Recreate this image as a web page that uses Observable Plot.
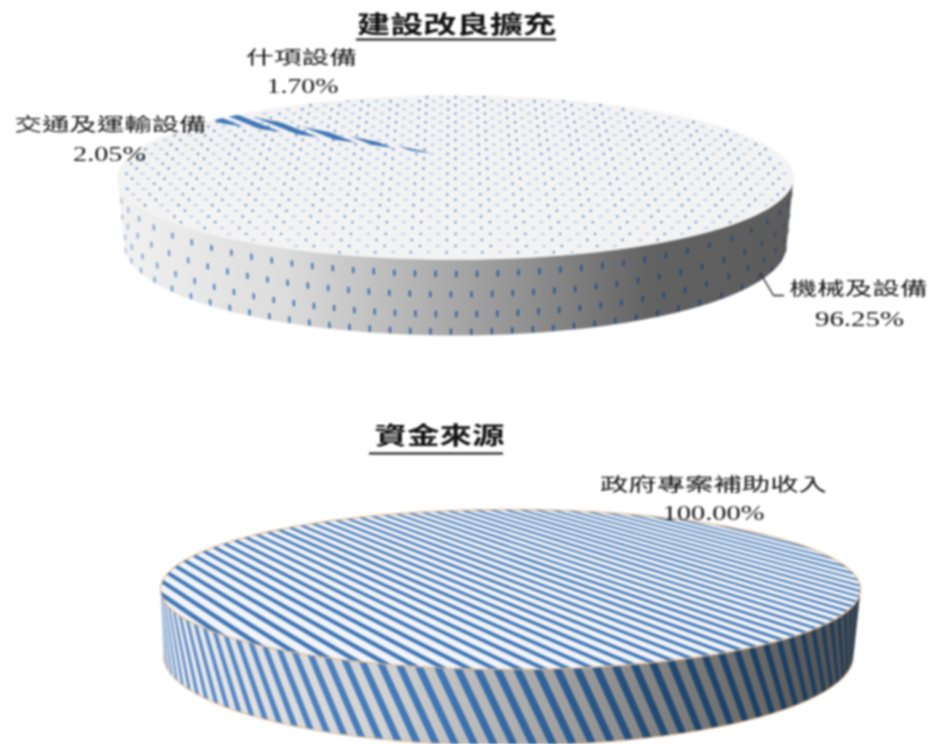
<!DOCTYPE html>
<html>
<head>
<meta charset="utf-8">
<style>html,body{margin:0;padding:0;background:#fff}svg{display:block}</style>
<script src="https://cdn.jsdelivr.net/npm/d3@7"></script>
<script src="https://cdn.jsdelivr.net/npm/@observablehq/plot@0.6"></script>
</head>
<body>
<div id="chart"></div>
<script>
const capexTitle = "建設改良擴充";
const capexLabels = ["機械及設備", "交通及運輸設備", "什項設備"];
const capexShares = [96.25, 2.05, 1.70];
const fundTitle = "資金來源";
const fundLabels = ["政府專案補助收入"];
const fundShares = [100];

const fmt = v => d3.format(".2f")(v) + "%";
const CJK = '"Noto Sans CJK TC","Noto Sans CJK SC",sans-serif';
const LAT = '"Liberation Serif",serif';
const rad = Math.PI / 180;

// Solid geometry of the two drawn discs
const capex = {top:{cx:455,cy:177,rx:338,ry:82}, bot:{cx:455,cy:245,rx:331,ry:90}, apex:[445,155], start:-33.5*rad};
const fund  = {top:{cx:510,cy:589,rx:350,ry:80}, bot:{cx:508,cy:655,rx:345,ry:90}, apex:[510,589], start:0};

const onEll = (e, phi) => [e.cx + e.rx*Math.cos(phi), e.cy + e.ry*Math.sin(phi)];
const steps = (a, b, n) => d3.range(n + 1).map(i => a + (b - a)*i/n);

// Slices from the pie layout: clockwise from north
function slices(d, shares, labels) {
  return d3.pie().sort(null).startAngle(d.start).endAngle(d.start + 2*Math.PI)(shares).map((s, i) => {
    const arc = steps(s.startAngle, s.endAngle, 120).map(a => [d.top.cx + d.top.rx*Math.sin(a), d.top.cy - d.top.ry*Math.cos(a)]);
    const pts = s.endAngle - s.startAngle > 6.28 ? arc : [d.apex, ...arc];
    return pts.map(p => ({x:p[0], y:p[1], k:labels[i]}));
  });
}
const capexSlices = slices(capex, capexShares, capexLabels);
const fundSlices = slices(fund, fundShares, fundLabels);

function wall(d) {
  const t = steps(0, Math.PI, 120);
  return [...t.map(p => onEll(d.top, p)), ...t.slice().reverse().map(p => onEll(d.bot, p))].map(p => ({x:p[0], y:p[1]}));
}
const lineEll = e => steps(0, 2*Math.PI, 180).map(p => { const q = onEll(e, p); return {x:q[0], y:q[1]}; });
const lowerArc = e => steps(0, Math.PI, 120).map(p => { const q = onEll(e, p); return {x:q[0], y:q[1]}; });

// Texture: dots on the first disc's top face
const dotsDot = [], dotsDash = [];
{
  const yh = -527; let y = 258, r = 0;
  while (y > 96) {
    const scale = (y - yh) / 785;
    const px = 18 * scale;
    for (let i = -30; i <= 30; i++) {
      const x = capex.top.cx + (i + (r % 2) / 2) * px;
      const u = (x - capex.top.cx)/capex.top.rx, v = (y - capex.top.cy)/capex.top.ry;
      if (u*u + v*v > 0.97) continue;
      if ((i + r + 40) % 2 === 0) dotsDot.push({x, y});
      else dotsDash.push({x1:x - 2, x2:x + 2, y});
    }
    y -= 6.3 * scale * scale;
    r++;
  }
}
// Texture: dots on the first disc's wall; they spread out toward the silhouette
const wallDots = [];
[0.19, 0.46, 0.72, 0.95].forEach((f, r) => {
  let p = 0.05 + (r % 2) * 0.03;
  while (p < Math.PI - 0.03) {
    const a = onEll(capex.top, p), b = onEll(capex.bot, p);
    const at = g => [a[0] + (b[0] - a[0])*g, a[1] + (b[1] - a[1])*g];
    const s = at(f - 0.028), e = at(f + 0.028);
    const edge = Math.sin(p);
    wallDots.push({x1:s[0], y1:s[1], x2:e[0], y2:e[1], o:Math.min(0.9, 0.25 + 0.9*edge)});
    p += 0.0615 / Math.max(0.55, edge);
  }
});
// Texture: diagonal strokes inside the transport slice
const sliceHatch = d3.range(-3, 14).map(i => ({x1:203 + i*24 - 60, y1:108, x2:203 + i*24 + 60, y2:108 + 48}));

// Texture: stripes of the second disc's top face, converging to a vanishing point
const VP = [-324, 263], refY = 589, far = 820;
const topStripes = [];
for (let k = 0; k < 52; k++) {
  const x0 = 90 + k*20, x1 = x0 + 7.5;
  const ext = xx => VP[0] + (xx - VP[0])*(far - VP[1])/(refY - VP[1]);
  [VP, [ext(x0), far], [ext(x1), far]].forEach(p => topStripes.push({x:p[0], y:p[1], k}));
}
// Texture: helical stripes of the second disc's wall
const wallStripes = [];
{
  const per = 0.057, w = 0.024, tw = 0.11;
  const cl = p => Math.max(0, Math.min(Math.PI, p));
  for (let k = 0; k < 62; k++) {
    const p = k*per;
    const a = onEll(fund.top, cl(p)), b = onEll(fund.top, cl(p + w));
    const c = onEll(fund.bot, cl(p + w - tw)), e = onEll(fund.bot, cl(p - tw));
    [a, b, c, e].forEach(q => wallStripes.push({x:q[0], y:q[1], k}));
  }
}

const texts = [
  {t:capexTitle, x:456, y:25, w:199, size:24, bold:true, font:CJK},
  {t:fundTitle, x:439, y:436, w:130, size:24, bold:true, font:CJK},
  {t:capexLabels[2], x:301, y:58, w:111, size:18, font:CJK},
  {t:fmt(capexShares[2]), x:302, y:85, w:72, size:22, font:LAT},
  {t:capexLabels[1], x:110, y:125, w:192, size:18, font:CJK},
  {t:fmt(capexShares[1]), x:109, y:153, w:73, size:22, font:LAT},
  {t:capexLabels[0], x:858, y:289, w:138, size:18, font:CJK},
  {t:fmt(capexShares[0]), x:859, y:318, w:89, size:22, font:LAT},
  {t:fundLabels[0], x:713, y:485, w:227, size:18, font:CJK},
  {t:fmt(fundShares[0]), x:713, y:512, w:102, size:22, font:LAT}
];
const underlines = [{x1:356, x2:556, y:39}, {x1:369, x2:503, y:453}];
const leader = [{x:760, y:273}, {x:773, y:295}, {x:783, y:295}];

const clipTo = id => (i, s, v, d, c, next) => {
  const g = next(i, s, v, d, c);
  g.setAttribute("clip-path", `url(#${id})`);
  return g;
};

function defsMark(index, scales) {
  const X = scales.x, Y = scales.y;
  const defs = d3.create("svg:defs");
  const grad = (id, a, b, stops) => {
    const g = defs.append("linearGradient").attr("id", id).attr("gradientUnits", "userSpaceOnUse")
      .attr("x1", X(a)).attr("x2", X(b)).attr("y1", 0).attr("y2", 0);
    stops.forEach(([o, c]) => g.append("stop").attr("offset", o).attr("stop-color", c));
  };
  grad("wallA", 117, 792, [[0,"#f2f2f2"],[0.25,"#dcdcdc"],[0.42,"#b8b8b8"],[0.6,"#929292"],[0.79,"#626262"],[1,"#5c5c5c"]]);
  grad("wallADot", 117, 792, [[0,"#4a7fbf"],[0.45,"#2f62a2"],[0.7,"#234f80"],[1,"#1f3f66"]]);
  grad("wallB", 161, 860, [[0,"#ececec"],[0.33,"#d0d0d0"],[0.5,"#b0b0b0"],[0.69,"#868686"],[0.85,"#6a6a6a"],[1,"#4a4a4a"]]);
  grad("wallBStripe", 161, 860, [[0,"#5a8ccb"],[0.4,"#3f75b5"],[0.55,"#2f6098"],[0.7,"#214a75"],[0.85,"#1c3f64"],[1,"#1a3a5c"]]);
  const ell = (id, e) => defs.append("clipPath").attr("id", id).append("ellipse")
    .attr("cx", X(e.cx)).attr("cy", Y(e.cy)).attr("rx", e.rx).attr("ry", e.ry);
  ell("clipFund", fund.top);
  const line = d3.line().x(d => X(d.x)).y(d => Y(d.y));
  defs.append("clipPath").attr("id", "clipSlice").append("path").attr("d", line(capexSlices[1]) + "Z");
  return defs.node();
}

const plot = Plot.plot({
  width: 931, height: 744,
  marginTop: 0, marginRight: 0, marginBottom: 0, marginLeft: 0,
  x: {domain: [0, 931], range: [0, 931], axis: null},
  y: {domain: [0, 744], range: [0, 744], axis: null},
  style: {background: "#fff"},
  marks: [
    defsMark,
    // first disc
    Plot.line(wall(capex), {x:"x", y:"y", fill:"url(#wallA)", stroke:"none"}),
    Plot.link(wallDots, {x1:"x1", y1:"y1", x2:"x2", y2:"y2", stroke:"url(#wallADot)", strokeWidth:2.4, strokeOpacity:"o", strokeLinecap:"round"}),
    ...capexSlices.map(s => Plot.line(s, {x:"x", y:"y", fill:"#f3f3f4", stroke:"#f3f3f4", strokeWidth:0.5})),
    Plot.dot(dotsDot, {x:"x", y:"y", r:1.2, fill:"#4f81bd", fillOpacity:0.9}),
    Plot.link(dotsDash, {x1:"x1", x2:"x2", y1:"y", y2:"y", stroke:"#6f9bd1", strokeWidth:1.5, strokeOpacity:0.55}),
    Plot.link(sliceHatch, {x1:"x1", y1:"y1", x2:"x2", y2:"y2", stroke:"#3f75b5", strokeWidth:5, render:clipTo("clipSlice")}),
    // second disc
    Plot.line(wall(fund), {x:"x", y:"y", fill:"url(#wallB)", stroke:"none"}),
    Plot.line(wallStripes, {x:"x", y:"y", z:"k", fill:"url(#wallBStripe)", stroke:"none"}),
    Plot.line(lowerArc(fund.bot), {x:"x", y:"y", stroke:"#dcb58f", strokeWidth:1.1}),
    ...fundSlices.map(s => Plot.line(s, {x:"x", y:"y", fill:"#f3f5f8", stroke:"none"})),
    Plot.line(topStripes, {x:"x", y:"y", z:"k", fill:"#3f75b5", stroke:"none", render:clipTo("clipFund")}),
    Plot.line(lineEll(fund.top), {x:"x", y:"y", stroke:"#dcb58f", strokeWidth:1.2}),
    // annotations
    Plot.line(leader, {x:"x", y:"y", stroke:"#222", strokeWidth:1.4}),
    Plot.ruleY(underlines, {x1:"x1", x2:"x2", y:"y", stroke:"#111", strokeWidth:2}),
    ...texts.map(d => Plot.text([d], {
      x:"x", y:"y", text:"t", fontSize:d.size, fontFamily:d.font,
      fontWeight:d.bold ? 700 : 400, fill:"#111", textAnchor:"middle", lineAnchor:"middle"
    }))
  ]
});
// stretch the lettering to the reference's wide aspect
const widths = new Map(texts.map(d => [d.t, d.w]));
plot.querySelectorAll("text").forEach(el => {
  const w = widths.get(el.textContent);
  if (w) { el.setAttribute("textLength", w); el.setAttribute("lengthAdjust", "spacingAndGlyphs"); }
});
// the reference is a soft, resampled image
plot.style.filter = "blur(0.8px)";
document.getElementById("chart").append(plot);
</script>
</body>
</html>
